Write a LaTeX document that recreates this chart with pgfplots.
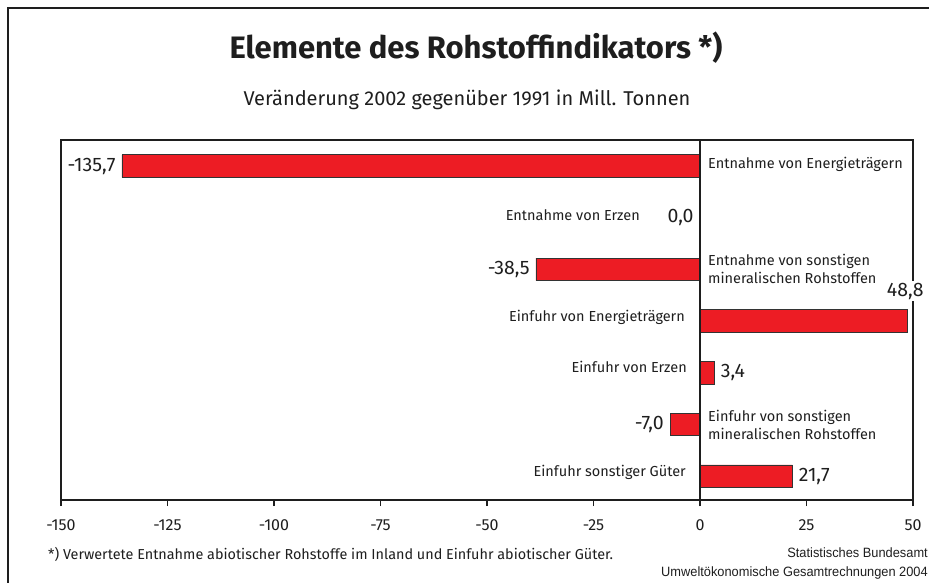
\documentclass[border=0pt]{standalone}
\usepackage{fontspec}
\setmainfont{Fira Sans}
\newfontfamily\srcfont{Liberation Sans}[FakeStretch=0.95]
\usepackage{pgfplots}
\pgfplotsset{compat=1.18}
\definecolor{barred}{HTML}{ED1C24}
\definecolor{edge}{HTML}{333333}
\definecolor{frame}{HTML}{1E1E1E}
\pgfplotsset{
  mybar/.style={xbar, bar width=22.5pt, bar shift=0pt, fill=barred, draw=edge, line width=0.8pt,
    point meta=x,
    nodes near coords={\pgfmathprintnumber[fixed,fixed zerofill,precision=1,use comma,assume math mode=true]{\pgfplotspointmeta}},
    nodes near coords style={font=\fontsize{19.5}{22}\selectfont, text=frame, inner sep=0pt}},
}
\begin{document}
\begin{tikzpicture}[x=1pt,y=1pt]
\useasboundingbox (0,0) rectangle (929,583);
\draw[frame, line width=2.4pt] (8,-2) -- (8,575) -- (931,575);
\node[font=\fontsize{31}{36}\selectfont\bfseries, text=frame] at (476,535.5) {Elemente des Rohstoffindikators *)};
\node[font=\fontsize{20}{24}\selectfont, text=frame] at (467,483) {Veränderung 2002 gegenüber 1991 in Mill. Tonnen};
\node[anchor=base west, font=\fontsize{14.4}{18}\selectfont, text=frame, inner sep=0pt] at (48,23) {*) Verwertete Entnahme abiotischer Rohstoffe im Inland und Einfuhr abiotischer Güter.};
\node[anchor=base east, font=\srcfont\fontsize{13.5}{16}\selectfont, text=frame, inner sep=0pt] at (928,25) {Statistisches Bundesamt};
\node[anchor=base east, font=\srcfont\fontsize{13.5}{16}\selectfont, text=frame, inner sep=0pt] at (928,6) {Umweltökonomische Gesamtrechnungen 2004};
\begin{axis}[
  at={(61pt,83pt)}, anchor=south west, scale only axis,
  width=852pt, height=360pt,
  xmin=-150, xmax=50, ymin=-0.503, ymax=6.46, y dir=reverse,
  xtick={-150,-125,...,50}, ytick=\empty,
  tick align=outside, xtick pos=lower, major tick length=6pt,
  axis line style={frame, line width=2pt},
  tick style={frame, line width=1.2pt},
  xticklabel style={font=\fontsize{16}{19}\selectfont, text=frame, yshift=-10pt},
  /pgf/number format/assume math mode=true,
  extra x ticks={0}, extra x tick labels={},
  extra x tick style={tick style={line width=2pt}},
  clip=false,
]
\addplot[mybar, every node near coord/.append style={anchor=east, xshift=-6pt}]
  coordinates {(-135.7,0) (0,1) (-38.5,2) (-7.0,5)};
\addplot[mybar, every node near coord/.append style={anchor=west, xshift=6pt}]
  coordinates {(3.4,4) (21.7,6)};
\addplot[mybar, every node near coord/.append style={anchor=east, xshift=18pt, yshift=30pt, fill=white, inner sep=2pt}]
  coordinates {(48.8,3)};
\addplot[sharp plot, frame, line width=2pt, no marks] coordinates {(0,-0.503) (0,6.46)};
\begin{scope}[every node/.style={font=\fontsize{14.5}{18}\selectfont, text=frame, inner sep=0pt, align=left}]
\node[anchor=mid west, xshift=8pt] at (axis cs:0,0) {Entnahme von Energieträgern};
\node[anchor=mid east, xshift=-60pt] at (axis cs:0,1) {Entnahme von Erzen};
\node[anchor=west, xshift=8pt] at (axis cs:0,2) {Entnahme von sonstigen\\mineralischen Rohstoffen};
\node[anchor=mid east, xshift=-15pt, yshift=2pt] at (axis cs:0,3) {Einfuhr von Energieträgern};
\node[anchor=mid east, xshift=-13pt, yshift=3pt] at (axis cs:0,4) {Einfuhr von Erzen};
\node[anchor=west, xshift=8pt] at (axis cs:0,5) {Einfuhr von sonstigen\\mineralischen Rohstoffen};
\node[anchor=mid east, xshift=-14pt, yshift=2.5pt] at (axis cs:0,6) {Einfuhr sonstiger Güter};
\end{scope}
\end{axis}
\end{tikzpicture}
\end{document}
